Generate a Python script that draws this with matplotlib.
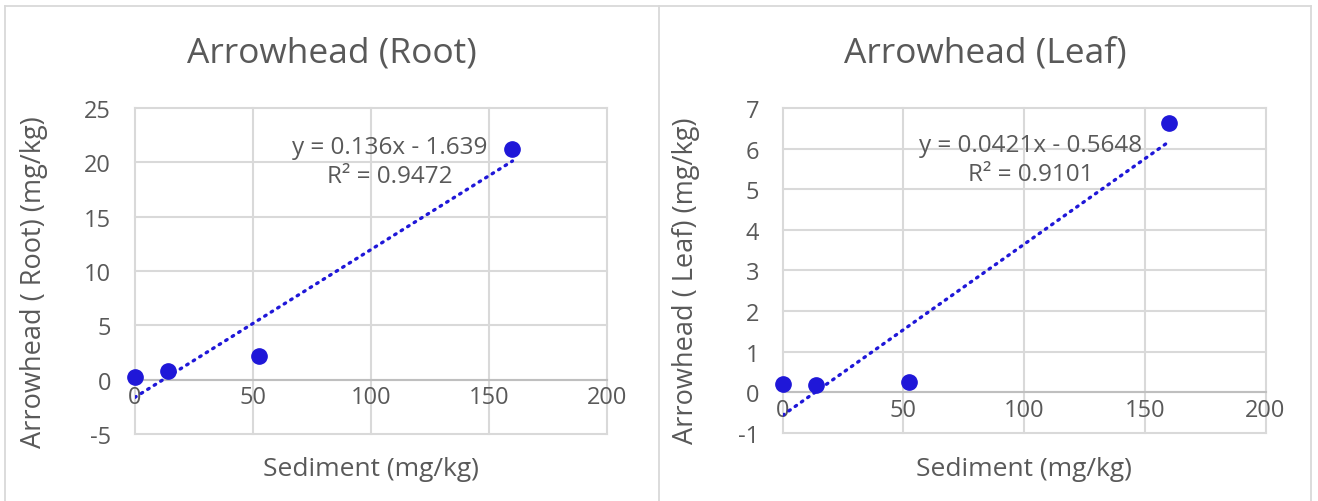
import matplotlib
matplotlib.use("Agg")
import matplotlib.pyplot as plt
import numpy as np
from matplotlib.lines import Line2D

plt.rcParams['font.family'] = ['Open Sans', 'DejaVu Sans']

# ---- data ----
sediment = [0, 14, 52.5, 160]
root_vals = [0.2, 0.75, 2.15, 21.25]
leaf_vals = [0.2, 0.19, 0.26, 6.63]

root_fit = [0.136, -1.639]      # slope, intercept
leaf_fit = [0.0421, -0.5648]
root_r2 = "0.9472"
leaf_r2 = "0.9101"

titles = ["Arrowhead (Root)", "Arrowhead (Leaf)"]
ylabels = ["Arrowhead ( Root) (mg/kg)", "Arrowhead ( Leaf) (mg/kg)"]
xlabel = "Sediment (mg/kg)"
x_ticks = [0, 50, 100, 150, 200]
root_yticks = [-5, 0, 5, 10, 15, 20, 25]
leaf_yticks = [-1, 0, 1, 2, 3, 4, 5, 6, 7]

TXT = '#595959'
GRID = '#d9d9d9'
AXLINE = '#bfbfbf'
BLUE = '#1f17d8'

fig = plt.figure(figsize=(13.18, 5.02), dpi=100)

# panel borders
W, H = 1318, 502
def fx(p): return p / W
def fy(p): return 1 - p / H
border_kw = dict(color='#d9d9d9', lw=1.3, transform=fig.transFigure)
fig.add_artist(Line2D([fx(5), fx(1311)], [fy(7), fy(7)], **border_kw))
fig.add_artist(Line2D([fx(5), fx(5)], [fy(7), fy(502)], **border_kw))
fig.add_artist(Line2D([fx(659), fx(659)], [fy(7), fy(502)], **border_kw))
fig.add_artist(Line2D([fx(1311), fx(1311)], [fy(7), fy(502)], **border_kw))

axes_pos = [
    [0.1022, 0.1335, 0.3583, 0.6494],
    [0.5938, 0.1355, 0.3664, 0.6474],
]
vals = [root_vals, leaf_vals]
fits = [root_fit, leaf_fit]
r2s = [root_r2, leaf_r2]
yticks = [root_yticks, leaf_yticks]
title_x = [332, 985]
eq_pos = [(0.54, 0.88), (0.514, 0.886)]
ylabel_x = [48, 700]

for i in range(2):
    ax = fig.add_axes(axes_pos[i])
    ax.set_xlim(x_ticks[0], x_ticks[-1])
    ax.set_ylim(yticks[i][0], yticks[i][-1])
    ax.set_xticks(x_ticks)
    ax.set_yticks(yticks[i])
    ax.set_yticklabels([f"{v}" for v in yticks[i]])
    ax.grid(True, color=GRID, lw=1.5)
    ax.set_axisbelow(True)
    for s in ['top', 'right', 'left']:
        ax.spines[s].set_visible(False)
    ax.spines['bottom'].set_position(('data', 0))
    ax.spines['bottom'].set_color(AXLINE)
    ax.spines['bottom'].set_linewidth(1.5)
    ax.tick_params(axis='both', length=0, labelsize=17, labelcolor=TXT)
    ax.tick_params(axis='y', pad=17)
    ax.tick_params(axis='x', pad=4)
    for g in ax.get_xgridlines() + ax.get_ygridlines():
        g.set_clip_on(False)

    # trendline
    xs = np.array([min(sediment), max(sediment)])
    ys = fits[i][0] * xs + fits[i][1]
    ax.plot(xs, ys, color=BLUE, lw=2.4, linestyle=(0, (0.5, 1.8)),
            dash_capstyle='round', zorder=3)
    ax.plot(sediment, vals[i], 'o', color=BLUE, markersize=11, zorder=4,
            clip_on=False)

    sign = '-' if fits[i][1] < 0 else '+'
    slope_txt = f"{fits[i][0]}"
    icpt_txt = f"{abs(fits[i][1])}"
    ax.text(eq_pos[i][0], eq_pos[i][1], f"y = {slope_txt}x {sign} {icpt_txt}",
            transform=ax.transAxes, ha='center', va='center', fontsize=17.5, color=TXT)
    ax.text(eq_pos[i][0], eq_pos[i][1] - 0.09, f"R² = {r2s[i]}",
            transform=ax.transAxes, ha='center', va='center', fontsize=17.5, color=TXT)

    ax.set_xlabel(xlabel, fontsize=19, color=TXT)
    ax.xaxis.set_label_coords(0.5, (435 - 457) / 326 if i == 0 else (434 - 457) / 325)
    ax.set_ylabel(ylabels[i], fontsize=19.5, color=TXT)

    fig.text(fx(title_x[i]), fy(54), titles[i], ha='center', va='center',
             fontsize=25.5, color=TXT)

fig.canvas.draw()
# position y labels by figure pixel
for i, ax in enumerate(fig.axes):
    inv = ax.transAxes.inverted()
    xa, _ = inv.transform((ylabel_x[i], 0))
    ax.yaxis.set_label_coords(xa, 0.47)

fig.savefig("out.png", dpi=100)
